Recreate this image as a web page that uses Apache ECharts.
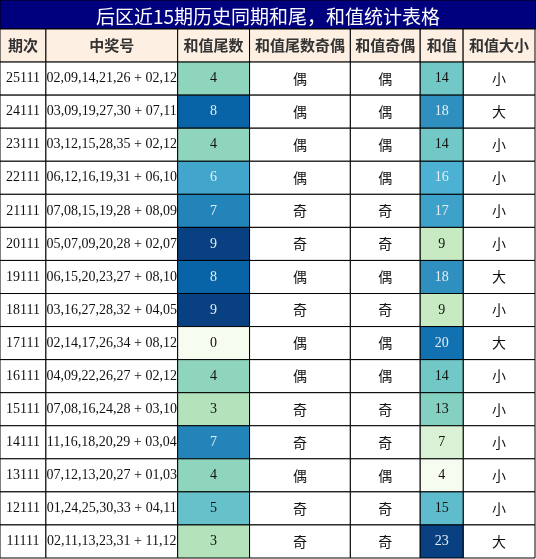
<!DOCTYPE html>
<html><head><meta charset="utf-8">
<script src="https://cdn.jsdelivr.net/npm/echarts@6/dist/echarts.min.js"></script>
<style>html,body{margin:0;padding:0;background:#fff}#c{width:536px;height:559px}</style>
</head><body><div id="c"></div>
<script>
const headers = ['期次','中奖号','和值尾数','和值尾数奇偶','和值奇偶','和值','和值大小'];
const periods = ['25111','24111','23111','22111','21111','20111','19111','18111','17111','16111','15111','14111','13111','12111','11111'];
const numbers = ['02,09,14,21,26 + 02,12','03,09,19,27,30 + 07,11','03,12,15,28,35 + 02,12','06,12,16,19,31 + 06,10','07,08,15,19,28 + 08,09','05,07,09,20,28 + 02,07','06,15,20,23,27 + 08,10','03,16,27,28,32 + 04,05','02,14,17,26,34 + 08,12','04,09,22,26,27 + 02,12','07,08,16,24,28 + 03,10','11,16,18,20,29 + 03,04','07,12,13,20,27 + 01,03','01,24,25,30,33 + 04,11','02,11,13,23,31 + 11,12'];
const tails = [4,8,4,6,7,9,8,9,0,4,3,7,4,5,3];
const tailParity = ['偶','偶','偶','偶','奇','奇','偶','奇','偶','偶','奇','奇','偶','奇','奇'];
const sumParity = ['偶','偶','偶','偶','奇','奇','偶','奇','偶','偶','奇','奇','偶','奇','奇'];
const sums = [14,18,14,16,17,9,18,9,20,14,13,7,4,15,23];
const sizes = ['小','大','小','小','小','小','大','小','大','小','小','小','小','小','大'];

const colEdges = [0,46,178,250,351,421,464,536];
const rows = ['hdr'].concat(periods);
const palette = ['#f7fcf0','#e0f3db','#ccebc5','#a8ddb5','#7bccc4','#4eb3d3','#2b8cbe','#0868ac','#084081'];
const cjk = '"Noto Sans CJK SC", sans-serif';
const serif = '"Liberation Serif", "DejaVu Serif", serif';

const plain = [], tailData = [], sumData = [];
headers.forEach((h,c)=>plain.push([c,'hdr',h,0,'h']));
periods.forEach((p,r)=>{
  plain.push([0,p,p,0,'n']);
  plain.push([1,p,numbers[r],0,'n']);
  plain.push([3,p,tailParity[r],0,'c']);
  plain.push([4,p,sumParity[r],0,'c']);
  plain.push([6,p,sizes[r],0,'c']);
  tailData.push([2,p,String(tails[r]),tails[r],'v']);
  sumData.push([5,p,String(sums[r]),sums[r],'v']);
});

function mkRender(lo,hi){
  return function(params, api){
    const c = api.value(0);
    const rowName = rows[params.dataIndexInside >= 0 ? 0 : 0];
    const y = api.coord([0, api.value(1)])[1];
    const h = api.size([0,1])[1];
    const x0 = api.coord([colEdges[c],0])[0];
    const x1 = api.coord([colEdges[c+1],0])[0];
    const kind = api.value(4);
    const text = api.value(2);
    let fill;
    if (kind==='h') fill = '#fdf0e2';
    else if (kind==='v') fill = api.visual('color');
    else {
      const ri = rows.indexOf(api.value(1)) ;
      fill = (ri % 2 === 1) ? '#f4f4f4' : '#ffffff';
    }
    let txtColor = '#111';
    if (kind==='v') { const v = api.value(3); if ((v-lo)/(hi-lo) > 0.6) txtColor = '#e6eef5'; }
    if (kind==='h') txtColor = '#333';
    return {type:'group', children:[
      {type:'rect', shape:{x:x0,y:y-h/2,width:x1-x0,height:h}, style:{fill:fill, stroke:'#000', lineWidth:1}},
      {type:'text', style:{x:(x0+x1)/2, y:y, text:text, align:'center', verticalAlign:'middle',
        fill:txtColor,
        font: kind==='h' ? 'bold 15px '+cjk : (kind==='c' ? '14px '+cjk : '14px '+serif)}}
    ]};
  };
}

const chart = echarts.init(document.getElementById('c'));
chart.setOption({
  animation:false,
  title:{text:'后区近15期历史同期和尾，和值统计表格', left:'center', top:2,
    textStyle:{color:'#fff', fontSize:19, fontWeight:'normal', fontFamily:cjk}},
  graphic:[{type:'rect', z:-1, shape:{x:0,y:0,width:536,height:29}, style:{fill:'#00007f', stroke:'#000'}}],
  grid:{left:0,right:1,top:29,bottom:1},
  xAxis:{type:'value', min:0, max:536, show:false},
  yAxis:{type:'category', data:rows, inverse:true, show:false},
  visualMap:[
    {type:'continuous', show:false, min:0, max:9, dimension:3, seriesIndex:1, inRange:{color:palette}},
    {type:'continuous', show:false, min:4, max:23, dimension:3, seriesIndex:2, inRange:{color:palette}}
  ],
  series:[
    {type:'custom', renderItem:mkRender(0,1), data:plain, encode:{x:0,y:1}},
    {type:'custom', renderItem:mkRender(0,9), data:tailData, encode:{x:0,y:1}},
    {type:'custom', renderItem:mkRender(4,23), data:sumData, encode:{x:0,y:1}}
  ]
});
</script></body></html>
